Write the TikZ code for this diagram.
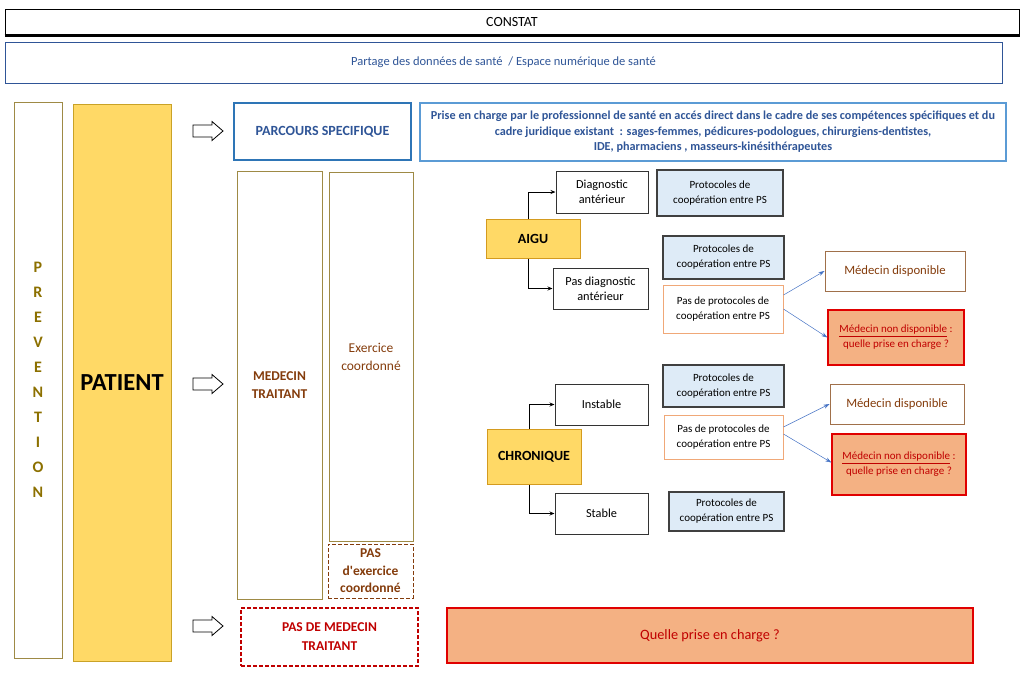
\documentclass[tikz,border=0pt]{standalone}
\usepackage{fontspec}
\setmainfont{Carlito}[Ligatures=TeXOff]
\usetikzlibrary{arrows.meta}

\definecolor{olive}{HTML}{9E8A45}
\definecolor{gold}{HTML}{8C7000}
\definecolor{yellowfill}{HTML}{FFD966}
\definecolor{yellowline}{HTML}{C9A227}
\definecolor{brownt}{HTML}{843C0C}
\definecolor{navy}{HTML}{2F5597}
\definecolor{bluel}{HTML}{2E75B6}
\definecolor{bluelight}{HTML}{5B9BD5}
\definecolor{salmon}{HTML}{F4B183}
\definecolor{redt}{HTML}{C00000}
\definecolor{redline}{HTML}{E00000}
\definecolor{protofill}{HTML}{DEEBF7}
\definecolor{protoline}{HTML}{404040}
\definecolor{orangeline}{HTML}{F0A878}
\definecolor{brownline}{HTML}{A0704A}
\definecolor{arrowblue}{HTML}{4472C4}

\tikzset{
  box/.style={draw, line width=1pt, align=center, inner sep=1pt},
  olivebox/.style={box, draw=olive},
  yellowbox/.style={box, draw=yellowline, fill=yellowfill},
  protobox/.style={box, draw=protoline, fill=protofill, line width=1.2pt,
    font=\fontsize{11}{15}\selectfont},
  noprotobox/.style={box, draw=orangeline, font=\fontsize{11}{15}\selectfont},
  choicebox/.style={box, draw=black!80, font=\fontsize{12.3}{15}\selectfont},
  dispobox/.style={box, draw=brownline, text=brownt, font=\fontsize{12.7}{15}\selectfont},
  nondispobox/.style={box, draw=redline, fill=salmon, text=redt, line width=1.3pt,
    font=\fontsize{11}{15}\selectfont},
  blockarrow/.style={draw, fill=white, line width=0.8pt, line join=miter},
  branch/.style={-{Stealth[length=5pt,width=4pt]}, line width=1pt},
  bluearrow/.style={-{Stealth[length=6pt,width=4pt]}, draw=arrowblue, line width=0.5pt},
  dashbox/.style={box, dash pattern=on 4pt off 2pt},
}

\begin{document}
\begin{tikzpicture}[x=1pt, y=-1pt]
\useasboundingbox (0,0) rectangle (1027,673);

% header
\node[box, draw=black, minimum width=1014pt, minimum height=26pt, font=\fontsize{14}{16}\selectfont] (constat) at (512,22) {CONSTAT};
\draw[line width=2.5pt] (constat.south west) -- (constat.south east);
\node[box, draw=navy, line width=0.8pt, minimum width=997pt, minimum height=41pt, text=navy,
  font=\fontsize{12.5}{15}\selectfont] (partage) at (503.5,62.5) {Partage des données de santé \ / Espace numérique de santé};

% left columns
\node[olivebox, minimum width=48pt, minimum height=556pt, text=gold, font=\fontsize{16}{25}\bfseries\selectfont] (prevention) at (38,380) {
    P\\R\\E\\V\\E\\N\\T\\I\\O\\N
};
\node[yellowbox, minimum width=98pt, minimum height=557pt, font=\fontsize{24.5}{26}\bfseries\selectfont] (patient) at (122,382.5) {PATIENT};

% hollow arrows
\foreach \ay in {131,384,626}
  \draw[blockarrow] (193,\ay-6) -- ++(19,0) -- ++(0,-3.5) -- ++(11,9.5) -- ++(-11,9.5) -- ++(0,-3.5) -- ++(-19,0) -- cycle;

% parcours specifique
\node[box, draw=bluel, line width=1.5pt, minimum width=177pt, minimum height=57pt, text=navy,
  font=\fontsize{14}{16}\bfseries\selectfont] (parcours) at (322.5,131.5) {PARCOURS SPECIFIQUE};
\node[box, draw=bluelight, line width=1.2pt, minimum width=586pt, minimum height=58pt, text=navy,
  font=\fontsize{12.2}{15.5}\bfseries\selectfont] (prise) at (713,132) {
    Prise en charge par le professionnel de santé en accés direct dans le cadre de ses compétences spécifiques et du\\
    cadre juridique existant \ : sages-femmes, pédicures-podologues, chirurgiens-dentistes,\\
    IDE, pharmaciens , masseurs-kinésithérapeutes
};

% medecin traitant
\node[olivebox, minimum width=85pt, minimum height=428pt, text=brownt,
  font=\fontsize{13.5}{18}\bfseries\selectfont] (medecin) at (279.5,385) {MEDECIN\\TRAITANT};
\node[olivebox, minimum width=84pt, minimum height=369pt, text=brownt,
  font=\fontsize{13.5}{18}\selectfont] (exercice) at (371,356.5) {Exercice\\coordonné};
\node[dashbox, draw=brownt, minimum width=85pt, minimum height=54pt, text=brownt,
  font=\fontsize{13.5}{17.5}\bfseries\selectfont] (pasexercice) at (370.5,571) {PAS\\d'exercice\\coordonné};
\node[dashbox, draw=redt, line width=1.2pt, minimum width=177pt, minimum height=58pt, text=redt,
  font=\fontsize{13.5}{19}\bfseries\selectfont] (pasmedecin) at (329.5,637) {PAS DE MEDECIN\\TRAITANT};
\node[box, draw=redline, fill=salmon, line width=1.3pt, minimum width=526pt, minimum height=55pt, text=redt,
  font=\fontsize{14.3}{16}\selectfont] (quelle) at (710,635.5) {Quelle prise en charge ?};

% aigu
\node[yellowbox, draw=yellowline!80!orange, minimum width=94pt, minimum height=39pt,
  font=\fontsize{14}{16}\bfseries\selectfont] (aigu) at (533,238.5) {AIGU};
\node[choicebox, minimum width=92pt, minimum height=42pt] (diag) at (602,192) {Diagnostic\\antérieur};
\node[choicebox, minimum width=95pt, minimum height=41pt] (pasdiag) at (600.5,288.5) {Pas diagnostic\\antérieur};
\node[protobox, minimum width=126pt, minimum height=46pt] (protoA) at (720,193) {Protocoles de\\coopération entre PS};
\node[protobox, minimum width=121pt, minimum height=43pt] (protoB) at (723.5,257.5) {Protocoles de\\coopération entre PS};
\node[noprotobox, minimum width=120pt, minimum height=48pt] (noprotoA) at (723,309) {Pas de protocoles de\\coopération entre PS};
\node[dispobox, minimum width=140pt, minimum height=40pt] (dispoA) at (895,271) {Médecin disponible};
\node[nondispobox, minimum width=136pt, minimum height=55pt] (nondispoA) at (896,337.5) {\underline{Médecin non disponible} :\\quelle prise en charge ?};

% chronique
\node[yellowbox, draw=yellowline!80!orange, minimum width=94pt, minimum height=55pt,
  font=\fontsize{14}{16}\bfseries\selectfont] (chronique) at (534,456.5) {CHRONIQUE};
\node[choicebox, minimum width=93pt, minimum height=41pt] (instable) at (601.5,404.5) {Instable};
\node[choicebox, minimum width=93pt, minimum height=41pt] (stable) at (601.5,513.5) {Stable};
\node[protobox, minimum width=121pt, minimum height=42pt] (protoC) at (723.5,386) {Protocoles de\\coopération entre PS};
\node[noprotobox, minimum width=119pt, minimum height=44pt] (noprotoB) at (723.5,437) {Pas de protocoles de\\coopération entre PS};
\node[dispobox, minimum width=134pt, minimum height=40pt] (dispoB) at (897,404) {Médecin disponible};
\node[nondispobox, minimum width=134pt, minimum height=61pt] (nondispoB) at (899,464.5) {\underline{Médecin non disponible} :\\quelle prise en charge ?};
\node[protobox, minimum width=115pt, minimum height=39pt] (protoD) at (726.5,511.5) {Protocoles de\\coopération entre PS};

% branches
\draw[branch] ([xshift=-5pt]aigu.north) |- (diag.west);
\draw[branch] ([xshift=-5pt]aigu.south) |- (pasdiag.west);
\draw[branch] ([xshift=-5pt]chronique.north) |- (instable.west);
\draw[branch] ([xshift=-5pt]chronique.south) |- (stable.west);

\draw[bluearrow] ([yshift=14pt]noprotoA.east) -- (dispoA.west);
\draw[bluearrow] (noprotoA.east) -- (nondispoA.west);
\draw[bluearrow] ([yshift=10pt]noprotoB.east) -- (dispoB.west);
\draw[bluearrow] ([yshift=3pt]noprotoB.east) -- ([yshift=2pt]nondispoB.west);
\end{tikzpicture}
\end{document}
